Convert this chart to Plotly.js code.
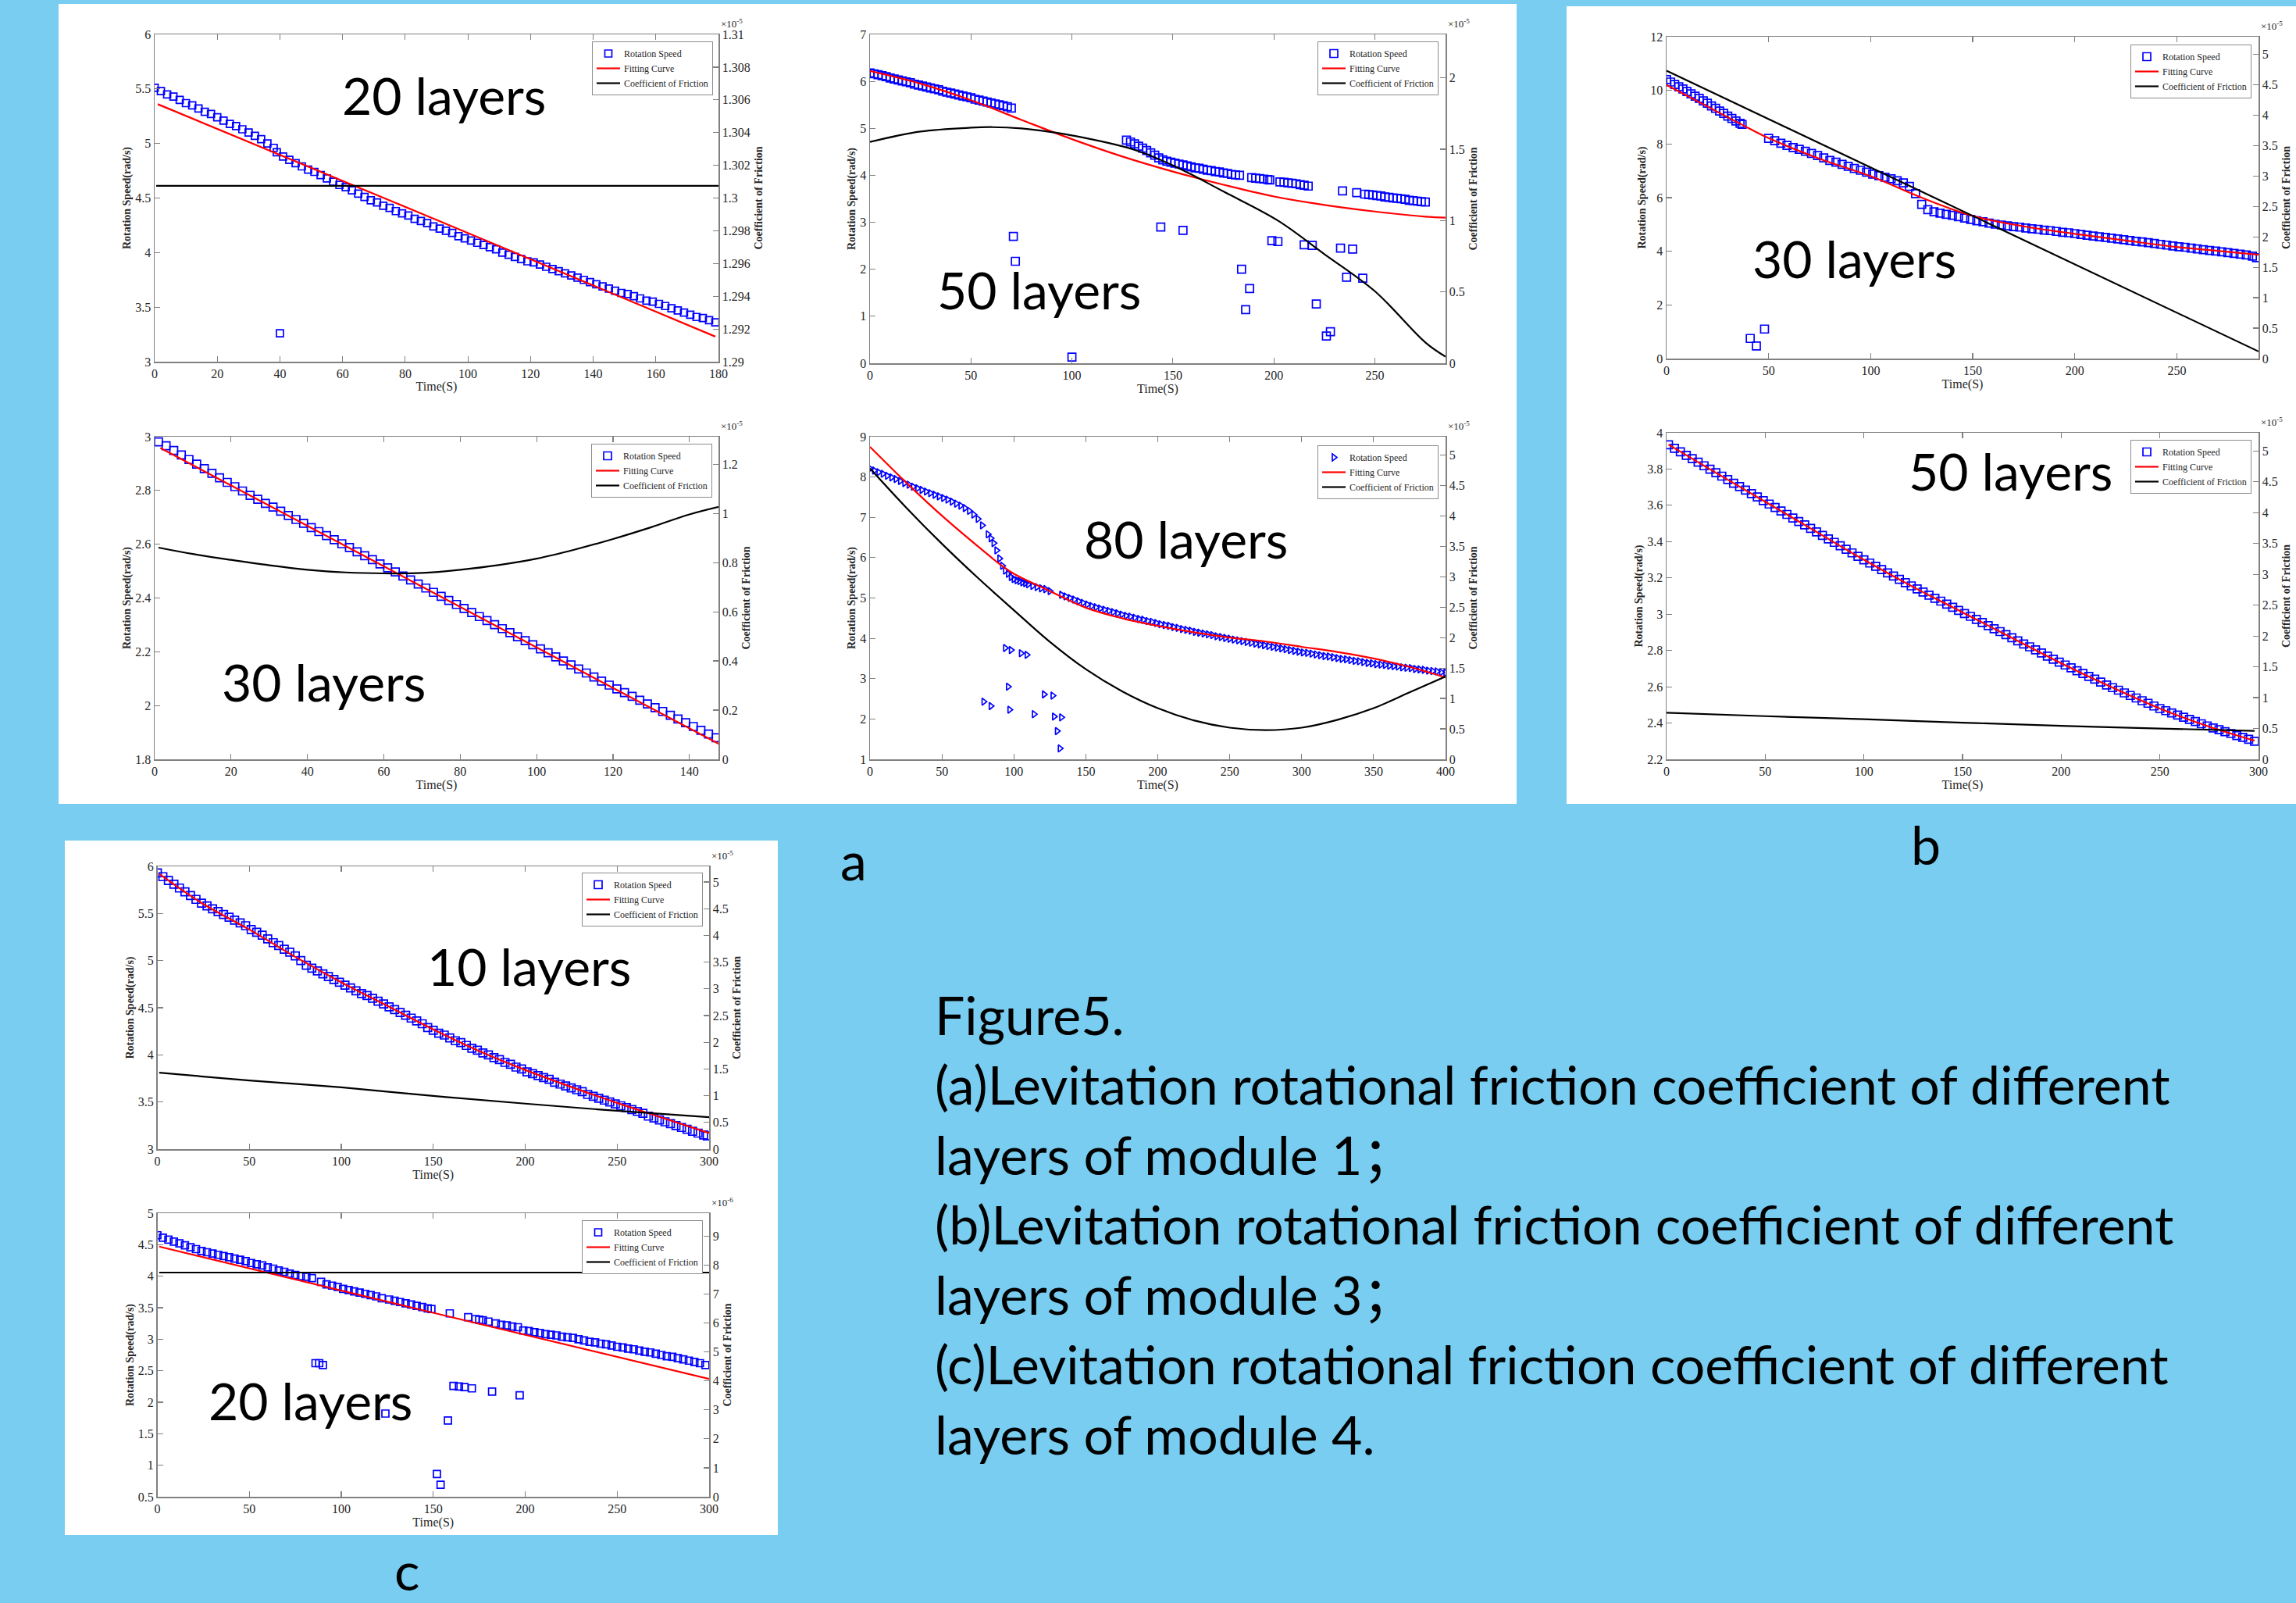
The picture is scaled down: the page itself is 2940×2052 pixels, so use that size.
<!DOCTYPE html>
<html><head><meta charset="utf-8">
<script src="https://cdn.plot.ly/plotly-3.0.1.min.js"></script>
<style>html,body{margin:0;padding:0;background:#79CDF0;}#chart{width:2940px;height:2052px;}</style>
</head><body><div id="chart"></div>
<script>
// ---------------- DATA ----------------
// Panel a, 20 layers (module 1)
const a1Speed = [[0,5.51],[2,5.48],[4,5.45],[6,5.43],[8,5.40],[10,5.37],[12,5.35],[14,5.32],[16,5.29],[18,5.27],[20,5.24],[22,5.21],[24,5.18],[26,5.16],[28,5.13],[30,5.10],[32,5.07],[34,5.04],[36,5.00],[38,4.96],[39,4.92],
[41,4.88],[43,4.85],[45,4.82],[47,4.79],[49,4.76],[51,4.74],[53,4.71],[55,4.68],[57,4.65],[59,4.62],[61,4.60],[63,4.57],[65,4.54],[67,4.51],[69,4.48],[71,4.46],[73,4.43],[75,4.41],[77,4.38],[79,4.36],[81,4.34],[83,4.31],[85,4.29],[87,4.27],[89,4.24],[91,4.22],[93,4.20],[95,4.18],[97,4.15],[99,4.13],[101,4.11],[103,4.09],[105,4.07],[107,4.05],[109,4.03],[111,4.00],[113,3.98],[115,3.96],[117,3.94],[119,3.92],[121,3.91],[123,3.89],[125,3.87],[127,3.85],[129,3.83],[131,3.81],[133,3.79],[135,3.77],[137,3.75],[139,3.73],[141,3.71],[143,3.69],[145,3.67],[147,3.65],[149,3.63],[151,3.62],[153,3.60],[155,3.58],[157,3.56],[159,3.55],[161,3.53],[163,3.51],[165,3.49],[167,3.47],[169,3.45],[171,3.43],[173,3.41],[175,3.40],[177,3.38],[179,3.36]];
const a1Outliers = [[40,3.26]];
const a1Fit = [[1,5.36],[90,4.30],[179,3.23]];
const a1Friction = [[0.5,1.30075],[180,1.30075]];

// Panel a, 50 layers (module 1)
const a2Speed = [[0,6.18],[2,6.16],[4,6.14],[6,6.12],[8,6.10],[10,6.07],[12,6.05],[14,6.03],[16,6.01],[18,5.99],[20,5.97],[22,5.94],[24,5.92],[26,5.90],[28,5.88],[30,5.86],[32,5.84],[34,5.82],[36,5.79],[38,5.77],[40,5.75],[42,5.73],[44,5.71],[46,5.69],[48,5.67],[50,5.65],[52,5.62],[54,5.60],[56,5.58],[58,5.56],[60,5.54],[62,5.52],[64,5.50],[66,5.48],[68,5.46],[70,5.43],
[127,4.75],[129,4.71],[131,4.67],[133,4.62],[135,4.58],[137,4.53],[139,4.48],[141,4.43],[143,4.37],[145,4.33],[147,4.30],[149,4.28],[151,4.26],[153,4.24],[155,4.22],[157,4.20],[159,4.18],[161,4.16],[163,4.15],[165,4.13],[167,4.11],[169,4.10],[171,4.08],[173,4.07],[175,4.05],[177,4.04],[179,4.02],[181,4.01],[183,4.00],
[189,3.95],[191,3.94],[193,3.93],[195,3.92],[197,3.91],[198,3.90],
[203,3.86],[205,3.85],[207,3.84],[209,3.83],[211,3.82],[213,3.80],[215,3.79],[217,3.77],
[234,3.67],[241,3.63],
[245,3.60],[247,3.59],[249,3.58],[251,3.57],[253,3.56],[255,3.54],[257,3.53],[259,3.52],[261,3.51],[263,3.50],[265,3.49],[267,3.47],[269,3.46],[271,3.45],[273,3.44],[275,3.43]];
const a2Outliers = [[71,2.70],[72,2.17],[100,0.13],[144,2.90],[155,2.83],[184,2.00],[186,1.14],[188,1.59],[199,2.61],[202,2.59],[215,2.52],[219,2.51],[221,1.26],[226,0.58],[228,0.67],[233,2.45],[239,2.43],[236,1.83],[244,1.81]];
const a2Fit = [[0,6.22],[25,5.95],[50,5.60],[75,5.18],[100,4.77],[125,4.40],[150,4.08],[175,3.80],[200,3.55],[225,3.37],[250,3.23],[275,3.12],[285,3.10]];
const a2Friction = [[0,1.551],[25,1.624],[50,1.651],[60,1.655],[75,1.646],[90,1.620],[100,1.597],[130,1.500],[150,1.387],[175,1.204],[202,1.000],[225,0.765],[250,0.505],[275,0.146],[285,0.046]];

// Panel a, 30 layers (module 1)
const a3Speed = [[1,2.981],[3,2.966],[5,2.949],[7,2.932],[9,2.915],[11,2.898],[13,2.881],[15,2.864],[17,2.847],[19,2.830],[21,2.814],[23,2.798],[25,2.782],[27,2.767],[29,2.752],[31,2.738],[33,2.723],[35,2.707],[37,2.692],[39,2.678],[41,2.662],[43,2.647],[45,2.632],[47,2.617],[49,2.602],[51,2.588],[53,2.572],[55,2.557],[57,2.543],[59,2.527],[61,2.512],[63,2.497],[65,2.482],[67,2.467],[69,2.452],[71,2.437],[73,2.421],[75,2.406],[77,2.391],[79,2.376],[81,2.361],[83,2.346],[85,2.331],[87,2.316],[89,2.301],[91,2.286],[93,2.271],[95,2.256],[97,2.241],[99,2.226],[101,2.211],[103,2.196],[105,2.181],[107,2.166],[109,2.151],[111,2.136],[113,2.121],[115,2.106],[117,2.091],[119,2.076],[121,2.062],[123,2.048],[125,2.034],[127,2.020],[129,2.006],[131,1.992],[133,1.978],[135,1.964],[137,1.950],[139,1.936],[141,1.922],[143,1.908],[145,1.894],[147,1.880]];
const a3Fit = [[1.5,2.958],[50,2.593],[100,2.216],[148,1.855]];
const a3Friction = [[1,0.861],[10,0.835],[20,0.811],[30,0.789],[40,0.771],[50,0.760],[60,0.756],[70,0.758],[80,0.771],[90,0.790],[100,0.816],[110,0.853],[120,0.896],[130,0.944],[140,0.996],[148,1.028]];

// Panel a, 80 layers (module 1)
const a4Speed = [[0,8.21],[3,8.16],[6,8.12],[9,8.08],[12,8.03],[15,7.99],[18,7.95],[21,7.90],[24,7.85],[27,7.81],[30,7.76],[33,7.72],[36,7.68],[39,7.64],[42,7.60],[45,7.56],[48,7.52],[51,7.48],[54,7.44],[57,7.39],[60,7.34],[63,7.29],[66,7.23],[69,7.16],[72,7.07],[75,6.96],[78,6.80],
[82,6.58],[84,6.48],[86,6.36],[88,6.18],[90,5.98],[92,5.80],[94,5.68],[96,5.60],[98,5.52],[100,5.47],[102,5.44],[104,5.42],[106,5.39],[108,5.37],[110,5.34],[113,5.30],[116,5.27],[119,5.24],[122,5.22],[125,5.17],
[133,5.08],[136,5.04],[139,5.00],[142,4.96],[145,4.92],[148,4.88],[151,4.84],[154,4.80],[157,4.77],[160,4.74],[163,4.71],[166,4.68],[169,4.65],[172,4.62],[175,4.59],[178,4.56],[181,4.54],[184,4.51],[187,4.48],[190,4.46],[193,4.43],[196,4.41],[199,4.38],[202,4.35],[205,4.33],[208,4.31],[211,4.28],[214,4.26],[217,4.23],[220,4.21],[223,4.19],[226,4.16],[229,4.14],[232,4.12],[235,4.10],[238,4.08],[241,4.05],[244,4.03],[247,4.01],[250,3.99],[253,3.97],[256,3.95],[259,3.93],[262,3.91],[265,3.89],[268,3.87],[271,3.85],[274,3.83],[277,3.81],[280,3.79],[283,3.77],[286,3.75],[289,3.73],[292,3.71],[295,3.69],[298,3.67],[301,3.65],[304,3.64],[307,3.62],[310,3.60],[313,3.58],[316,3.56],[319,3.55],[322,3.53],[325,3.51],[328,3.49],[331,3.48],[334,3.46],[337,3.44],[340,3.43],[343,3.41],[346,3.39],[349,3.38],[352,3.36],[355,3.35],[358,3.34],[361,3.32],[364,3.31],[367,3.30],[370,3.28],[373,3.27],[376,3.26],[379,3.24],[382,3.23],[385,3.22],[388,3.20],[391,3.19],[394,3.18],[397,3.16],[400,3.15]];
const a4Outliers = [[79,2.43],[84,2.32],[94,3.76],[98,3.71],[96,2.80],[97,2.23],[105,3.63],[109,3.59],[114,2.12],[121,2.61],[127,2.58],[128,2.06],[133,2.04],[130,1.70],[132,1.27]];
const a4Fit = [[0,8.75],[25,7.87],[50,7.04],[75,6.28],[92,5.79],[100,5.60],[125,5.17],[150,4.76],[175,4.50],[200,4.31],[225,4.15],[250,4.02],[275,3.92],[300,3.79],[325,3.66],[350,3.50],[375,3.29],[400,3.03]];
const a4Friction = [[0,4.78],[25,4.14],[50,3.54],[75,2.98],[100,2.45],[125,1.93],[150,1.48],[175,1.12],[200,0.84],[225,0.64],[250,0.52],[275,0.48],[300,0.52],[325,0.65],[350,0.84],[375,1.10],[400,1.36]];

// Panel b, 30 layers (module 3)
const b1Speed = [[0,10.40],[2,10.31],[4,10.22],[6,10.13],[8,10.05],[10,9.96],[12,9.87],[14,9.78],[16,9.70],[18,9.61],[20,9.52],[22,9.42],[24,9.33],[26,9.23],[28,9.14],[30,9.04],[32,8.95],[34,8.86],[36,8.77],[37,8.73],
[50,8.21],[53,8.12],[56,8.03],[59,7.95],[62,7.87],[65,7.80],[68,7.73],[71,7.65],[74,7.57],[77,7.48],[80,7.39],[83,7.32],[86,7.24],[89,7.17],[92,7.09],[95,7.02],[98,6.95],[101,6.88],[104,6.82],[107,6.76],[110,6.70],[113,6.63],[116,6.55],[119,6.42],[122,6.15],[125,5.75],[128,5.55],[131,5.47],[134,5.42],[137,5.38],[140,5.34],[143,5.29],[146,5.24],[149,5.19],[152,5.14],[155,5.10],[158,5.05],[161,5.01],[164,4.98],[167,4.95],[170,4.92],[173,4.90],[176,4.87],[179,4.84],[182,4.82],[185,4.79],[188,4.77],[191,4.74],[194,4.71],[197,4.69],[200,4.66],[203,4.63],[206,4.60],[209,4.57],[212,4.54],[215,4.52],[218,4.49],[221,4.46],[224,4.43],[227,4.40],[230,4.37],[233,4.35],[236,4.32],[239,4.29],[242,4.26],[245,4.23],[248,4.20],[251,4.17],[254,4.15],[257,4.12],[260,4.09],[263,4.06],[266,4.03],[269,4.01],[272,3.98],[275,3.95],[278,3.92],[281,3.89],[284,3.86],[287,3.82],[289,3.76]];
const b1Outliers = [[41,0.75],[44,0.47],[48,1.10]];
const b1Fit = [[0,10.20],[25,9.20],[37,8.72],[50,8.22],[75,7.45],[100,6.80],[125,6.00],[150,5.32],[175,4.93],[200,4.65],[225,4.40],[250,4.16],[275,3.98],[290,3.87]];
const b1Friction = [[0,4.73],[290,0.117]];

// Panel b, 50 layers (module 3)
const b2Speed = [[1,3.934],[4,3.914],[7,3.895],[10,3.876],[13,3.857],[16,3.838],[19,3.818],[22,3.799],[25,3.780],[28,3.761],[31,3.742],[34,3.722],[37,3.703],[40,3.684],[43,3.665],[46,3.646],[49,3.626],[52,3.607],[55,3.588],[58,3.569],[61,3.550],[64,3.530],[67,3.511],[70,3.492],[73,3.473],[76,3.454],[79,3.434],[82,3.415],[85,3.396],[88,3.377],[91,3.358],[94,3.338],[97,3.319],[100,3.300],[103,3.282],[106,3.264],[109,3.246],[112,3.228],[115,3.210],[118,3.192],[121,3.174],[124,3.156],[127,3.139],[130,3.122],[133,3.105],[136,3.088],[139,3.072],[142,3.055],[145,3.038],[148,3.021],[151,3.004],[154,2.988],[157,2.971],[160,2.954],[163,2.937],[166,2.920],[169,2.904],[172,2.887],[175,2.870],[178,2.853],[181,2.836],[184,2.820],[187,2.803],[190,2.786],[193,2.769],[196,2.752],[199,2.736],[202,2.720],[205,2.704],[208,2.688],[211,2.673],[214,2.657],[217,2.642],[220,2.626],[223,2.610],[226,2.595],[229,2.581],[232,2.566],[235,2.552],[238,2.538],[241,2.523],[244,2.509],[247,2.494],[250,2.480],[253,2.468],[256,2.456],[259,2.444],[262,2.432],[265,2.420],[268,2.408],[271,2.396],[274,2.384],[277,2.373],[280,2.363],[283,2.352],[286,2.342],[289,2.331],[292,2.321],[295,2.310],[298,2.300]];
const b2Fit = [[1,3.935],[25,3.78],[50,3.62],[75,3.46],[100,3.30],[125,3.15],[150,3.01],[175,2.87],[200,2.73],[225,2.60],[250,2.48],[275,2.38],[298,2.303]];
const b2Friction = [[0,0.756],[50,0.700],[100,0.650],[150,0.595],[200,0.543],[250,0.500],[298,0.462]];

// Panel c, 10 layers (module 4)
const c1Speed = [[0,5.93],[3,5.89],[6,5.85],[9,5.81],[12,5.77],[15,5.73],[18,5.69],[21,5.65],[24,5.61],[27,5.58],[30,5.55],[33,5.52],[36,5.49],[39,5.46],[42,5.43],[45,5.40],[48,5.37],[51,5.33],[54,5.30],[57,5.27],[60,5.23],[63,5.19],[66,5.16],[69,5.12],[72,5.09],[75,5.05],[78,5.00],[81,4.95],[84,4.92],[87,4.89],[90,4.86],[93,4.83],[96,4.80],[99,4.77],[102,4.74],[105,4.71],[108,4.68],[111,4.65],[114,4.63],[117,4.60],[120,4.57],[123,4.54],[126,4.51],[129,4.48],[132,4.45],[135,4.42],[138,4.39],[141,4.36],[144,4.33],[147,4.29],[150,4.26],[153,4.23],[156,4.21],[159,4.18],[162,4.15],[165,4.13],[168,4.10],[171,4.07],[174,4.05],[177,4.02],[180,4.00],[183,3.97],[186,3.95],[189,3.92],[192,3.90],[195,3.87],[198,3.85],[201,3.82],[204,3.80],[207,3.78],[210,3.76],[213,3.74],[216,3.71],[219,3.69],[222,3.67],[225,3.65],[228,3.63],[231,3.61],[234,3.58],[237,3.56],[240,3.54],[243,3.52],[246,3.50],[249,3.48],[252,3.46],[255,3.44],[258,3.42],[261,3.40],[264,3.38],[267,3.35],[270,3.33],[273,3.31],[276,3.29],[279,3.27],[282,3.25],[285,3.23],[288,3.21],[291,3.19],[294,3.17],[297,3.15],[299,3.14]];
const c1Fit = [[1,5.92],[25,5.60],[50,5.33],[75,5.04],[100,4.77],[125,4.52],[150,4.27],[175,4.04],[200,3.84],[225,3.66],[250,3.49],[275,3.33],[300,3.17]];
const c1Friction = [[1,1.430],[50,1.285],[100,1.156],[150,0.997],[200,0.852],[250,0.717],[300,0.597]];

// Panel c, 20 layers (module 4)
const c2Speed = [[0,4.65],[3,4.61],[6,4.58],[9,4.55],[12,4.52],[15,4.49],[18,4.46],[21,4.43],[24,4.40],[27,4.38],[30,4.36],[33,4.34],[36,4.32],[39,4.30],[42,4.28],[45,4.26],[48,4.24],[51,4.21],[54,4.19],[57,4.17],[60,4.14],[63,4.12],[66,4.09],[69,4.07],[72,4.04],[75,4.02],[78,4.00],[81,3.99],[84,3.97],
[89,3.91],
[92,3.87],[95,3.85],[98,3.83],[101,3.80],[104,3.78],[107,3.76],[110,3.74],[113,3.72],[116,3.70],[119,3.68],[122,3.65],
[126,3.63],[129,3.61],[132,3.59],[135,3.57],[138,3.55],[141,3.53],[144,3.51],[147,3.49],[149,3.48],
[159,3.41],[169,3.35],
[173,3.32],[175,3.31],[177,3.30],[180,3.28],
[184,3.25],[187,3.23],[190,3.22],[193,3.20],[196,3.19],
[199,3.14],[202,3.13],[205,3.11],[208,3.10],[211,3.08],[214,3.07],[217,3.06],[220,3.04],[223,3.03],[226,3.02],[229,3.00],[232,2.98],[235,2.96],[238,2.95],[241,2.93],[244,2.92],[247,2.90],[250,2.88],[253,2.87],[256,2.85],[259,2.84],[262,2.82],[265,2.80],[268,2.79],[271,2.77],[274,2.75],[277,2.73],[280,2.72],[283,2.70],[286,2.68],[289,2.66],[292,2.64],[295,2.62],[298,2.59]];
const c2Outliers = [[86,2.62],[88,2.62],[90,2.59],[124,1.82],[152,0.86],[154,0.69],[158,1.71],[161,2.26],[164,2.25],[167,2.24],[171,2.22],[182,2.17],[197,2.11]];
const c2Fit = [[1,4.47],[150,3.42],[300,2.37]];
const c2Friction = [[1,7.74],[300,7.74]];

// Tick values
const a1XTicks = [0,20,40,60,80,100,120,140,160,180];
const a1YTicks = [3,3.5,4,4.5,5,5.5,6];
const a1Y2Ticks = [1.29,1.292,1.294,1.296,1.298,1.3,1.302,1.304,1.306,1.308,1.31];
const a2XTicks = [0,50,100,150,200,250];
const a2YTicks = [0,1,2,3,4,5,6,7];
const a2Y2Ticks = [0,0.5,1,1.5,2];
const a3XTicks = [0,20,40,60,80,100,120,140];
const a3YTicks = [1.8,2,2.2,2.4,2.6,2.8,3];
const a3Y2Ticks = [0,0.2,0.4,0.6,0.8,1,1.2];
const a4XTicks = [0,50,100,150,200,250,300,350,400];
const a4YTicks = [1,2,3,4,5,6,7,8,9];
const a4Y2Ticks = [0,0.5,1,1.5,2,2.5,3,3.5,4,4.5,5];
const b1XTicks = [0,50,100,150,200,250];
const b1YTicks = [0,2,4,6,8,10,12];
const b1Y2Ticks = [0,0.5,1,1.5,2,2.5,3,3.5,4,4.5,5];
const b2XTicks = [0,50,100,150,200,250,300];
const b2YTicks = [2.2,2.4,2.6,2.8,3,3.2,3.4,3.6,3.8,4];
const b2Y2Ticks = [0,0.5,1,1.5,2,2.5,3,3.5,4,4.5,5];
const c1XTicks = [0,50,100,150,200,250,300];
const c1YTicks = [3,3.5,4,4.5,5,5.5,6];
const c1Y2Ticks = [0,0.5,1,1.5,2,2.5,3,3.5,4,4.5,5];
const c2XTicks = [0,50,100,150,200,250,300];
const c2YTicks = [0.5,1,1.5,2,2.5,3,3.5,4,4.5,5];
const c2Y2Ticks = [0,1,2,3,4,5,6,7,8,9];

const legendNames = ['Rotation Speed','Fitting Curve','Coefficient of Friction'];
const layerLabels = ['20 layers','50 layers','30 layers','80 layers','30 layers','50 layers','10 layers','20 layers'];
const panelLetters = ['a','b','c'];
const captionLines = ['Figure5.',
 '(a)Levitation rotational friction coefficient of different',
 'layers of module 1；',
 '(b)Levitation rotational friction coefficient of different',
 'layers of module 3；',
 '(c)Levitation rotational friction coefficient of different',
 'layers of module 4.'];

// ---------------- LAYOUT ----------------
const W = 2940, H = 2052;
const PX = v => v / W;
const PY = v => 1 - v / H;
const BLUE = '#0000ff', RED = '#ff0000', BLACK = '#000000';
const AXC = '#808080', TXT = '#262626';
const SERIF = 'Liberation Serif, Times New Roman, serif';
const SANS = 'Lato, Noto Sans, Noto Sans CJK SC, sans-serif';

const panels = [
 {box:[198,44,920,463], xr:[0,180], yr:[3,6], y2r:[1.29,1.31], xt:a1XTicks, yt:a1YTicks, y2t:a1Y2Ticks,
  speed:a1Speed.concat(a1Outliers), fit:a1Fit, fr:a1Friction, sym:'square-open', ms:9, leg:[913,53], exp:'-5', lab:[568,121]},
 {box:[1114,44,1851,465], xr:[0,285], yr:[0,7], y2r:[0,2.305], xt:a2XTicks, yt:a2YTicks, y2t:a2Y2Ticks,
  speed:a2Speed.concat(a2Outliers), fit:a2Fit, fr:a2Friction, sym:'square-open', ms:10, leg:[1842,53], exp:'-5', lab:[1330,370]},
 {box:[198,559,920,972], xr:[0,147.6], yr:[1.8,3], y2r:[0,1.312], xt:a3XTicks, yt:a3YTicks, y2t:a3Y2Ticks,
  speed:a3Speed, fit:a3Fit, fr:a3Friction, sym:'square-open', ms:10, leg:[912,568], exp:'-5', lab:[414,872]},
 {box:[1114,559,1851,972], xr:[0,400], yr:[1,9], y2r:[0,5.30], xt:a4XTicks, yt:a4YTicks, y2t:a4Y2Ticks,
  speed:a4Speed.concat(a4Outliers), fit:a4Fit, fr:a4Friction, sym:'triangle-right-open', ms:8, leg:[1842,570], exp:'-5', lab:[1518,689]},
 {box:[2134,47,2892,459], xr:[0,290], yr:[0,12], y2r:[0,5.287], xt:b1XTicks, yt:b1YTicks, y2t:b1Y2Ticks,
  speed:b1Speed.concat(b1Outliers), fit:b1Fit, fr:b1Friction, sym:'square-open', ms:10, leg:[2883,57], exp:'-5', lab:[2374,330]},
 {box:[2134,554,2892,972], xr:[0,300], yr:[2.2,4], y2r:[0,5.296], xt:b2XTicks, yt:b2YTicks, y2t:b2Y2Ticks,
  speed:b2Speed, fit:b2Fit, fr:b2Friction, sym:'square-open', ms:10, leg:[2883,563], exp:'-5', lab:[2574,602]},
 {box:[201.5,1109,908,1471], xr:[0,300], yr:[3,6], y2r:[0,5.294], xt:c1XTicks, yt:c1YTicks, y2t:c1Y2Ticks,
  speed:c1Speed, fit:c1Fit, fr:c1Friction, sym:'square-open', ms:10, leg:[900,1117], exp:'-5', lab:[677,1236]},
 {box:[201.5,1553,908,1916], xr:[0,300], yr:[0.5,5], y2r:[0,9.79], xt:c2XTicks, yt:c2YTicks, y2t:c2Y2Ticks,
  speed:c2Speed.concat(c2Outliers), fit:c2Fit, fr:c2Friction, sym:'square-open', ms:9, leg:[900,1562], exp:'-6', lab:[397,1792]}
];

const traces = [];
const annotations = [];
const layout = {
  width: W, height: H,
  margin: {l:0, r:0, t:0, b:0, pad:0},
  paper_bgcolor: '#79CDF0',
  plot_bgcolor: '#ffffff',
  showlegend: true,
  shapes: [
    {type:'rect', xref:'paper', yref:'paper', x0:PX(75), x1:PX(1942), y0:PY(5), y1:PY(1029), fillcolor:'#ffffff', line:{width:0}, layer:'below'},
    {type:'rect', xref:'paper', yref:'paper', x0:PX(2006), x1:PX(2940), y0:PY(8), y1:PY(1029), fillcolor:'#ffffff', line:{width:0}, layer:'below'},
    {type:'rect', xref:'paper', yref:'paper', x0:PX(83), x1:PX(996), y0:PY(1076), y1:PY(1965), fillcolor:'#ffffff', line:{width:0}, layer:'below'}
  ]
};

const tickFont = {family:SERIF, size:16, color:TXT};
panels.forEach((p, k) => {
  const i = k + 1;
  const sfx = i === 1 ? '' : String(i);
  const xn = 'x' + sfx, yn = 'y' + sfx, y2n = 'y' + (i + 8);
  const ln = 'legend' + sfx;
  traces.push({type:'scatter', mode:'markers', name:legendNames[0], legend:ln, xaxis:xn, yaxis:yn,
    x:p.speed.map(d => d[0]), y:p.speed.map(d => d[1]),
    marker:{symbol:p.sym, size:p.ms, color:BLUE, line:{width:1.7, color:BLUE}}});
  traces.push({type:'scatter', mode:'lines', name:legendNames[1], legend:ln, xaxis:xn, yaxis:yn,
    x:p.fit.map(d => d[0]), y:p.fit.map(d => d[1]), line:{color:RED, width:2.2, shape:'spline'}});
  traces.push({type:'scatter', mode:'lines', name:legendNames[2], legend:ln, xaxis:xn, yaxis:y2n,
    x:p.fr.map(d => d[0]), y:p.fr.map(d => d[1]), line:{color:BLACK, width:2.2, shape:'spline'}});

  const common = {showgrid:false, zeroline:false, showline:true, linecolor:AXC, linewidth:1.5,
    ticks:'inside', ticklen:7, tickwidth:1.2, tickcolor:AXC, tickfont:tickFont, fixedrange:true};
  layout['xaxis' + sfx] = Object.assign({}, common, {
    domain:[PX(p.box[0]), PX(p.box[2])], range:p.xr, anchor:yn, mirror:'ticks',
    tickvals:p.xt, ticktext:p.xt.map(String),
    title:{text:'Time(S)', font:{family:SERIF, size:16, color:TXT}, standoff:3}});
  layout['yaxis' + sfx] = Object.assign({}, common, {
    domain:[PY(p.box[3]), PY(p.box[1])], range:p.yr, anchor:xn,
    tickvals:p.yt, ticktext:p.yt.map(String),
    title:{text:'<b>Rotation Speed(rad/s)</b>', font:{family:SERIF, size:14, color:TXT}, standoff:2}});
  layout['yaxis' + (i + 8)] = Object.assign({}, common, {
    overlaying:yn, side:'right', range:p.y2r, anchor:xn,
    tickvals:p.y2t, ticktext:p.y2t.map(String),
    title:{text:'<b>Coefficient of Friction</b>', font:{family:SERIF, size:14, color:TXT}, standoff:6}});
  layout[ln] = {x:PX(p.leg[0]), y:PY(p.leg[1]), xref:'paper', yref:'paper', xanchor:'right', yanchor:'top',
    bgcolor:'#ffffff', bordercolor:'#8c8c8c', borderwidth:1, tracegroupgap:0, itemwidth:30,
    font:{family:SERIF, size:12, color:TXT}};
  annotations.push({xref:'paper', yref:'paper', x:PX(p.box[2] + 1), y:PY(p.box[1] - 4), xanchor:'left', yanchor:'bottom',
    showarrow:false, text:'×10<sup>' + p.exp + '</sup>', font:{family:SERIF, size:13, color:TXT}});
  annotations.push({xref:'paper', yref:'paper', x:PX(p.lab[0]), y:PY(p.lab[1]), xanchor:'center', yanchor:'middle',
    showarrow:false, text:layerLabels[k], font:{family:SANS, size:66, color:'#000000'}});
});

// panel letters
const letterPos = [[1093,1100,'middle'],[2466,1080,'middle'],[521,2052,'bottom']];
panelLetters.forEach((t, j) => annotations.push({xref:'paper', yref:'paper', x:PX(letterPos[j][0]), y:PY(letterPos[j][1]),
  xanchor:'center', yanchor:letterPos[j][2], showarrow:false, text:t, font:{family:SANS, size:68, color:'#000000'}}));

// caption
captionLines.forEach((t, j) => annotations.push({xref:'paper', yref:'paper', x:PX(1195), y:PY(1324 + 89.5 * j - 26),
  xanchor:'left', yanchor:'middle', showarrow:false, text:t, font:{family:SANS, size:68, color:'#000000'}}));

layout.annotations = annotations;
Plotly.newPlot('chart', traces, layout, {displayModeBar:false, staticPlot:true});
</script></body></html>
